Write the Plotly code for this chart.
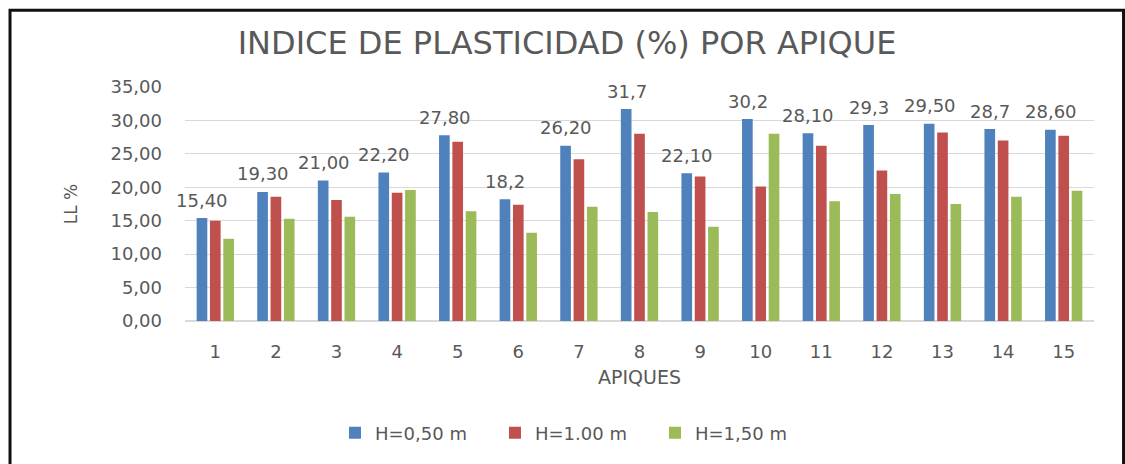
import plotly.graph_objects as go

categories = list(range(1, 16))
h050 = [15.4, 19.3, 21.0, 22.2, 27.8, 18.2, 26.2, 31.7, 22.1, 30.2, 28.1, 29.3, 29.5, 28.7, 28.6]
h100 = [15.0, 18.6, 18.1, 19.2, 26.8, 17.4, 24.2, 28.0, 21.6, 20.1, 26.2, 22.5, 28.2, 27.0, 27.7]
h150 = [12.3, 15.3, 15.6, 19.6, 16.4, 13.2, 17.1, 16.3, 14.1, 28.0, 17.9, 19.0, 17.5, 18.6, 19.5]
labels_050 = ["15,40", "19,30", "21,00", "22,20", "27,80", "18,2", "26,20", "31,7",
              "22,10", "30,2", "28,10", "29,3", "29,50", "28,7", "28,60"]
series_names = ["H=0,50 m", "H=1.00 m", "H=1,50 m"]
colors = ["#4F81BD", "#C0504D", "#9BBB59"]

FONT = "DejaVu Sans"
GREY = "#595959"

fig = go.Figure()
for name, vals, col in zip(series_names, [h050, h100, h150], colors):
    fig.add_trace(go.Bar(x=categories, y=vals, name=name, marker_color=col,
                         marker_line_width=0))

annotations = []
for cat, v, lab in zip(categories, h050, labels_050):
    annotations.append(dict(x=cat, y=v, xref="x", yref="y", text=lab, showarrow=False,
                            xshift=-13, yshift=18, yanchor="middle", xanchor="center",
                            font=dict(family=FONT, size=18, color=GREY)))

fig.update_layout(
    width=1125, height=464,
    margin=dict(l=185, r=31, t=87, b=141),
    paper_bgcolor="white", plot_bgcolor="white",
    barmode="group", bargap=0.34, bargroupgap=0.2,
    separators=",.",
    font=dict(family=FONT, color=GREY),
    title=dict(text="INDICE DE PLASTICIDAD (%) POR APIQUE", x=0.504, xref="container",
               xanchor="center", y=1 - 43 / 464, yref="container", yanchor="middle",
               font=dict(family=FONT, size=32, color=GREY)),
    annotations=annotations,
    legend=dict(orientation="h", x=0.165, xanchor="left", y=-0.479, yanchor="middle",
                entrywidth=115, entrywidthmode="pixels",
                font=dict(family=FONT, size=18, color=GREY)),
    shapes=[dict(type="rect", xref="paper", yref="paper", x0=-0.1925, x1=1.0325,
                 y0=-0.75, y1=1.3284, line=dict(color="#111111", width=3),
                 fillcolor="rgba(0,0,0,0)", layer="above")],
)
fig.update_xaxes(type="linear", range=[0.5, 15.5], tickmode="linear", tick0=1, dtick=1,
                 showline=True, linecolor="#D9D9D9", linewidth=1, showgrid=False, zeroline=False,
                 ticks="", ticklabelstandoff=14,
                 tickfont=dict(family=FONT, size=18, color=GREY),
                 title=dict(text="APIQUES", standoff=10, font=dict(family=FONT, size=19, color=GREY)))
fig.update_yaxes(range=[0, 35], dtick=5, tickformat=".2f", showgrid=True,
                 gridcolor="#D9D9D9", gridwidth=1, zeroline=True, zerolinecolor="#D9D9D9",
                 ticks="", ticklabelstandoff=22,
                 tickfont=dict(family=FONT, size=18, color=GREY),
                 title=dict(text="LL %", standoff=28, font=dict(family=FONT, size=17, color=GREY)))

fig.write_html("out.html")
